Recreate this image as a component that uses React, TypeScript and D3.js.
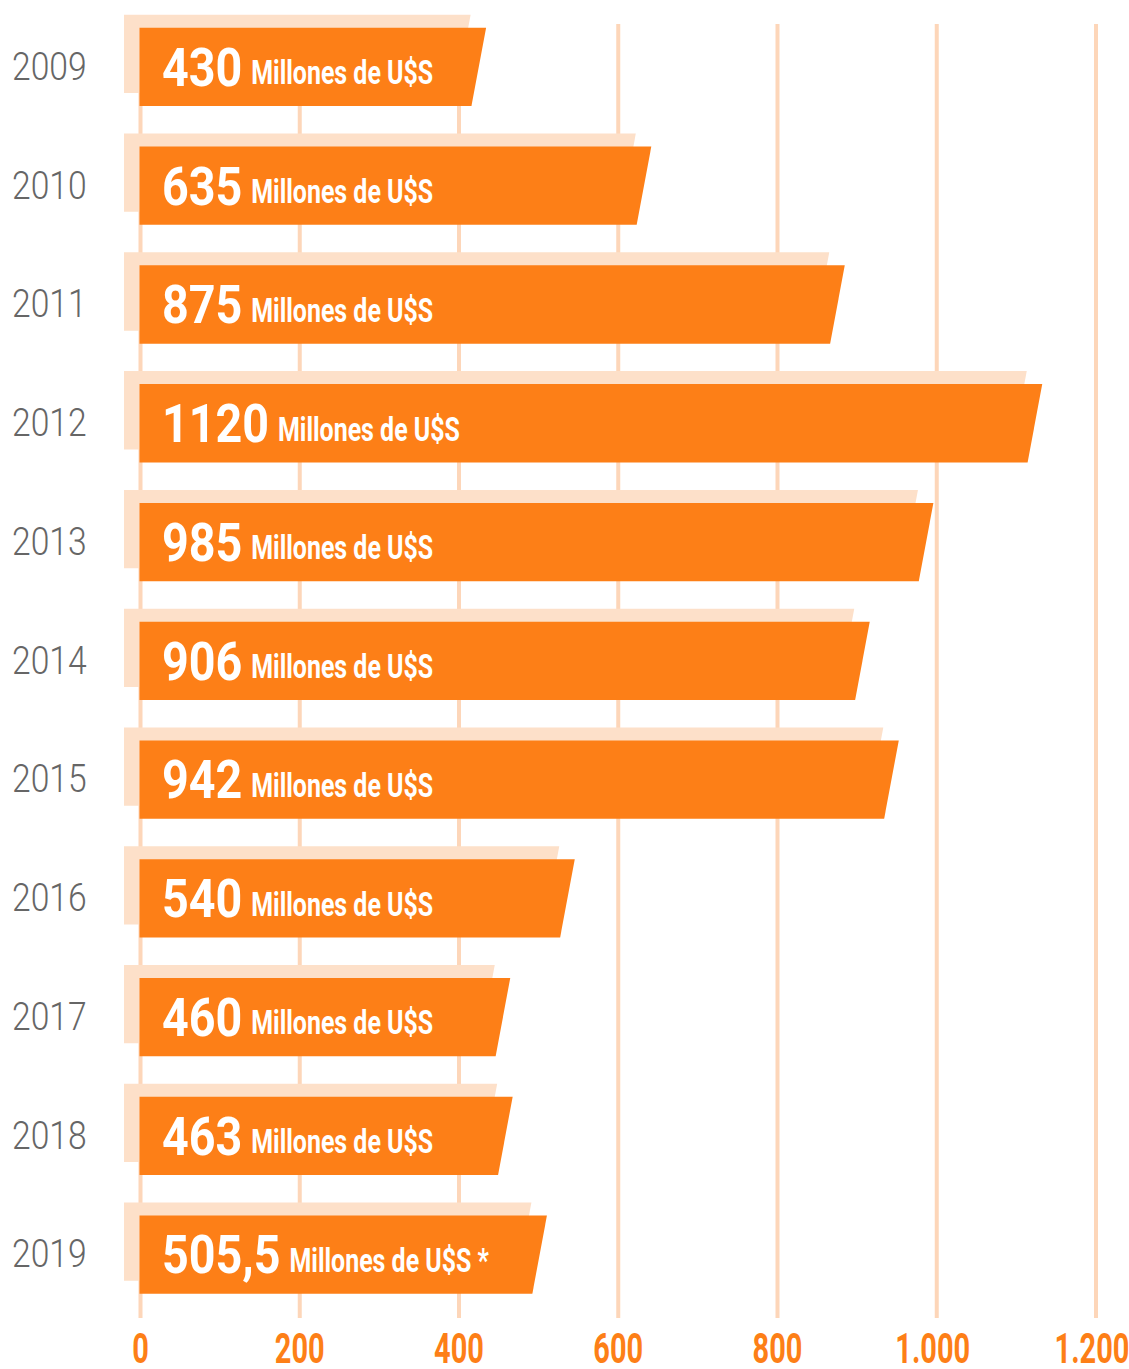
import React, { useEffect, useRef } from 'react';
import * as d3 from 'd3';

const years = ['2009', '2010', '2011', '2012', '2013', '2014', '2015', '2016', '2017', '2018', '2019'];
const values = [430, 635, 875, 1120, 985, 906, 942, 540, 460, 463, 505.5];
const valueLabels = ['430', '635', '875', '1120', '985', '906', '942', '540', '460', '463', '505,5'];
const unitLabels = [
  'Millones de U$S', 'Millones de U$S', 'Millones de U$S', 'Millones de U$S',
  'Millones de U$S', 'Millones de U$S', 'Millones de U$S', 'Millones de U$S',
  'Millones de U$S', 'Millones de U$S', 'Millones de U$S *',
];
const ticks = [0, 200, 400, 600, 800, 1000, 1200];
const tickLabels = ['0', '200', '400', '600', '800', '1.000', '1.200'];

const ORANGE = '#fd7f17';
const SHADOW = '#fde0c9';
const GRID = '#fdd6b9';

export default function App() {
  const ref = useRef<SVGSVGElement>(null);

  useEffect(() => {
    const svg = d3.select(ref.current);
    svg.selectAll('*').remove();

    const xGrid = d3.scaleLinear().domain([0, 1200]).range([140.5, 1096]);
    const xBar = d3.scaleLinear().domain([0, 1200]).range([139.5, 1106.7]);
    const y = d3.scaleBand<string>().domain(years).range([27.8, 1293.8]).paddingInner(0.3407).paddingOuter(0);
    const bh = y.bandwidth();
    const slant = 14.6;

    const data = years.map((yr, i) => ({ yr, v: values[i], label: valueLabels[i], unit: unitLabels[i] }));

    const barPath = (v: number, top: number) => {
      const l = xBar(0);
      const r = xBar(v);
      return `M${l},${top}L${r},${top}L${r - slant},${top + bh}L${l},${top + bh}Z`;
    };

    // grid lines
    svg.append('g')
      .selectAll('line')
      .data(ticks)
      .join('line')
      .attr('x1', (d) => xGrid(d))
      .attr('x2', (d) => xGrid(d))
      .attr('y1', 24)
      .attr('y2', 1318)
      .attr('stroke', GRID)
      .attr('stroke-width', 4);

    // shadows
    svg.append('g')
      .attr('transform', 'translate(-15.5,-13)')
      .selectAll('path')
      .data(data)
      .join('path')
      .attr('d', (d) => barPath(d.v, y(d.yr)!))
      .attr('fill', SHADOW);

    // main bars
    svg.append('g')
      .selectAll('path')
      .data(data)
      .join('path')
      .attr('d', (d) => barPath(d.v, y(d.yr)!))
      .attr('fill', ORANGE);

    // year labels
    svg.append('g')
      .selectAll('text')
      .data(data)
      .join('text')
      .attr('transform', (d) => `translate(12,${y(d.yr)! + 52}) scale(0.886,1)`)
      .attr('font-family', 'Roboto, sans-serif')
      .attr('font-weight', 300)
      .attr('font-size', 38)
      .attr('fill', '#666666')
      .text((d) => d.yr);

    // value labels
    const numScale = 0.88;
    let unitScale = 0.75;
    const labels = svg.append('g');
    data.forEach((d, i) => {
      const top = y(d.yr)!;
      const g = labels.append('g').attr('transform', `translate(162,${top + 58})`);
      const num = g.append('text')
        .attr('transform', `scale(${numScale},1)`)
        .attr('font-family', 'Roboto, sans-serif')
        .attr('font-weight', 700)
        .attr('font-size', 53)
        .attr('fill', '#ffffff')
        .text(d.label);
      const w = (num.node() as SVGTextElement).getComputedTextLength() * numScale;
      const unit = g.append('text')
        .attr('font-family', 'Roboto, sans-serif')
        .attr('font-weight', 700)
        .attr('font-size', 34)
        .attr('fill', '#ffffff')
        .text(d.unit);
      if (i === 0) {
        const L = (unit.node() as SVGTextElement).getComputedTextLength();
        if (L > 0) unitScale = 182 / L;
      }
      unit.attr('transform', `translate(${w + 9},-1.5) scale(${unitScale},1)`);
    });

    // tick labels
    svg.append('g')
      .selectAll('text')
      .data(ticks)
      .join('text')
      .attr('transform', (d, i) => `translate(${xGrid(d) + (i >= 5 ? -4 : 0)},1363) scale(0.69,1)`)
      .attr('text-anchor', 'middle')
      .attr('font-family', 'Roboto, sans-serif')
      .attr('font-weight', 700)
      .attr('font-size', 42)
      .attr('fill', ORANGE)
      .text((d, i) => tickLabels[i]);
  }, []);

  return (
    <svg
      ref={ref}
      width={1129}
      height={1369}
      style={{ position: 'absolute', left: 0, top: 0, display: 'block', background: '#ffffff' }}
    />
  );
}
